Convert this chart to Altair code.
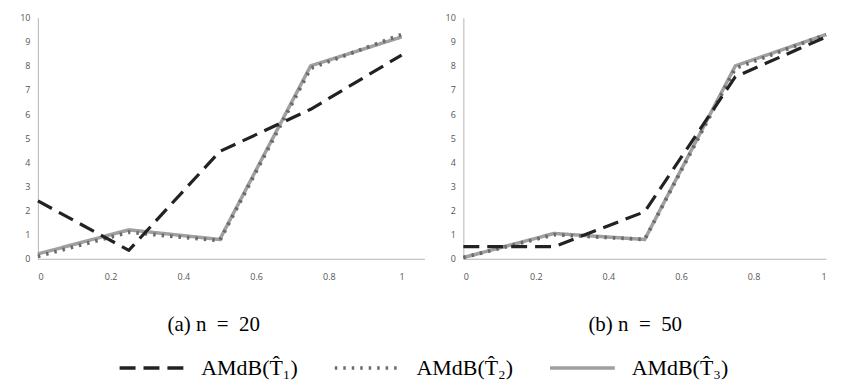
import altair as alt
import pandas as pd

x_vals = [0, 0.25, 0.5, 0.75, 1]
series_names = ["AMdB(T\u0302\u2081)", "AMdB(T\u0302\u2082)", "AMdB(T\u0302\u2083)"]

# panel (a) n = 20
a_t1 = [2.4, 0.35, 4.45, 6.2, 8.45]
a_t2 = [0.1, 1.1, 0.75, 7.9, 9.3]
a_t3 = [0.2, 1.2, 0.8, 8.0, 9.2]
# panel (b) n = 50
b_t1 = [0.5, 0.5, 1.95, 7.55, 9.2]
b_t2 = [0.05, 1.0, 0.8, 7.9, 9.3]
b_t3 = [0.05, 1.05, 0.8, 8.0, 9.3]

x_ticks = [0, 0.2, 0.4, 0.6, 0.8, 1]
y_ticks = list(range(0, 11))
captions = ["(a) n\u2002=\u200220", "(b) n\u2002=\u200250"]

def frame(t1, t2, t3):
    rows = []
    for name, vals in zip(series_names, [t1, t2, t3]):
        for x, y in zip(x_vals, vals):
            rows.append({"x": x, "y": y, "series": name})
    return pd.DataFrame(rows)

color_scale = alt.Scale(domain=series_names, range=["#222222", "#6a6a6a", "#a0a0a0"])
dash_scale = alt.Scale(domain=series_names, range=[[16, 8], [2.5, 6], [1, 0]])

legend = alt.Legend(
    orient="none", legendX=80, legendY=317, direction="horizontal", title=None,
    symbolType="stroke", symbolSize=4225, symbolStrokeWidth=3.5,
    labelFont="Liberation Serif", labelFontSize=22, labelColor="black",
    columnPadding=30, labelOffset=15, labelLimit=220,
)

def panel(df, caption, w, xmax, title_x):
    base = alt.Chart(df).encode(
        x=alt.X("x:Q", scale=alt.Scale(domain=[0, xmax], nice=False),
                axis=alt.Axis(values=x_ticks, format="~g", title=caption, grid=False,
                              ticks=False, labelPadding=14, titlePadding=32,
                              titleX=title_x, titleAlign="center",
                              titleFont="Liberation Serif", titleFontSize=21,
                              titleFontWeight="normal", titleColor="black")),
        y=alt.Y("y:Q", scale=alt.Scale(domain=[0, 10], nice=False),
                axis=alt.Axis(values=y_ticks, title=None, grid=False, ticks=False,
                              labelPadding=8)),
        color=alt.Color("series:N", scale=color_scale, legend=legend),
        strokeDash=alt.StrokeDash("series:N", scale=dash_scale, legend=legend),
    )
    l3 = base.transform_filter(alt.datum.series == series_names[2]).mark_line(strokeWidth=3.5)
    l2 = base.transform_filter(alt.datum.series == series_names[1]).mark_line(strokeWidth=3.8)
    l1 = base.transform_filter(alt.datum.series == series_names[0]).mark_line(strokeWidth=3.2)
    return alt.layer(l3, l2, l1).properties(width=w, height=242)

left = panel(frame(a_t1, a_t2, a_t3), captions[0], 388, 1.063, 176)
right = panel(frame(b_t1, b_t2, b_t3), captions[1], 364, 1.0, 172)

chart = alt.hconcat(left, right, spacing=20).properties(
    padding={"left": 11, "top": 5, "right": 0, "bottom": 0}
).configure_view(stroke=None).configure_axis(
    domainColor="#b5b5b5", labelColor="#555555", labelFont="Open Sans", labelFontSize=9
)

chart.save("out.html", embed_options={"renderer": "svg", "actions": False})
